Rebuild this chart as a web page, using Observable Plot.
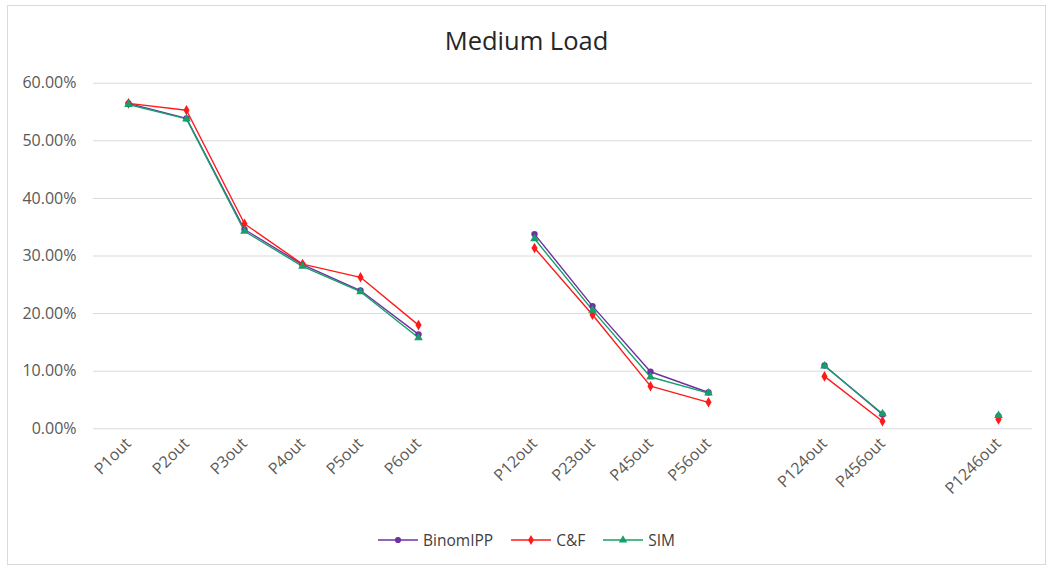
<!DOCTYPE html>
<html>
<head>
<meta charset="utf-8">
<script src="https://cdn.jsdelivr.net/npm/d3@7"></script>
<script src="https://cdn.jsdelivr.net/npm/@observablehq/plot@0.6"></script>
<style>
  html, body { margin: 0; padding: 0; background: #fff; }
  #wrap { position: relative; width: 1047px; height: 566px; font-family: "Open Sans", sans-serif; }
  #frame { position: absolute; left: 7px; top: 5px; width: 1039px; height: 560px; border: 1px solid #d9d9d9; box-sizing: border-box; }
  #title { position: absolute; left: 7px; width: 1039px; top: 23px; text-align: center; font-size: 25.5px; color: #262626; }
  #plot { position: absolute; left: 0; top: 60px; }
  #legend { position: absolute; top: 529px; left: 7px; width: 1039px; display: flex; justify-content: center; gap: 18px; font-size: 15.5px; color: #404040; }
  .item { display: flex; align-items: center; gap: 5px; }
</style>
</head>
<body>
<div id="wrap">
  <div id="frame"></div>
  <div id="title">Medium Load</div>
  <div id="plot"></div>
  <div id="legend"></div>
</div>
<script>
// Scenario slots along the x axis; null marks an empty slot between groups
const categories = ["P1out", "P2out", "P3out", "P4out", "P5out", "P6out", null,
  "P12out", "P23out", "P45out", "P56out", null,
  "P124out", "P456out", null,
  "P1246out"];

// Percent values per method (null = no value in that slot)
const binomIPP = [56.5, 53.9, 34.6, 28.5, 24.0, 16.4, null, 33.8, 21.3, 9.9, 6.3, null, 11.0, 2.5, null, 2.2];
const candF    = [56.5, 55.3, 35.6, 28.6, 26.3, 18.0, null, 31.4, 19.8, 7.4, 4.6, null, 9.1, 1.3, null, 1.6];
const sim      = [56.3, 53.8, 34.3, 28.2, 23.8, 15.8, null, 33.0, 20.6, 9.0, 6.2, null, 10.9, 2.6, null, 2.3];

const yTicks = [0, 10, 20, 30, 40, 50, 60];

const seriesNames = ["BinomIPP", "C&F", "SIM"];
const seriesValues = [binomIPP, candF, sim];
const seriesColors = ["#7030a0", "#ff1a1a", "#13a06a"];
const seriesSymbols = ["circle", "diamond", "triangle"];

const rows = seriesNames.flatMap((name, s) =>
  seriesValues[s].map((v, i) => ({series: name, slot: i, value: v})));

const slots = d3.range(categories.length);
const labelled = slots.filter(i => categories[i] !== null);

const chart = Plot.plot({
  width: 1047,
  height: 440,
  marginLeft: 93,
  marginRight: 15,
  marginTop: 22.7,
  marginBottom: 71.7,
  style: {fontFamily: "Open Sans, sans-serif", fontSize: "16px", color: "#595959", background: "transparent"},
  x: {type: "point", domain: slots, padding: 0.5},
  y: {domain: [0, 60]},
  color: {domain: seriesNames, range: seriesColors},
  symbol: {domain: seriesNames, range: seriesSymbols},
  marks: [
    Plot.gridY(yTicks, {stroke: "#d9d9d9", strokeOpacity: 1, strokeWidth: 1}),
    Plot.axisY({ticks: yTicks, tickFormat: d => d.toFixed(2) + "%", tickSize: 0, tickPadding: 17, label: null, fill: "#595959"}),
    Plot.axisX({ticks: labelled, tickFormat: i => categories[i], tickRotate: -45, tickSize: 0, tickPadding: 12, label: null, fill: "#595959"}),
    Plot.line(rows, {x: "slot", y: "value", z: "series", stroke: "series", strokeWidth: 1.4}),
    Plot.dot(rows.filter(d => d.value !== null), {x: "slot", y: "value", fill: "series", symbol: "series", r: 3.2, stroke: null})
  ]
});
document.getElementById("plot").appendChild(chart);

// Legend: short line with the series marker, then the name
const legend = d3.select("#legend");
seriesNames.forEach((name, s) => {
  const item = legend.append("div").attr("class", "item");
  const svg = item.append("svg").attr("width", 40).attr("height", 12);
  svg.append("line").attr("x1", 0).attr("x2", 40).attr("y1", 6).attr("y2", 6)
    .attr("stroke", seriesColors[s]).attr("stroke-width", 1.4);
  const sym = {circle: d3.symbolCircle, diamond: d3.symbolDiamond, triangle: d3.symbolTriangle}[seriesSymbols[s]];
  svg.append("path").attr("d", d3.symbol(sym, 30)()).attr("transform", "translate(20,6)")
    .attr("fill", seriesColors[s]);
  item.append("span").text(name);
});
</script>
</body>
</html>
